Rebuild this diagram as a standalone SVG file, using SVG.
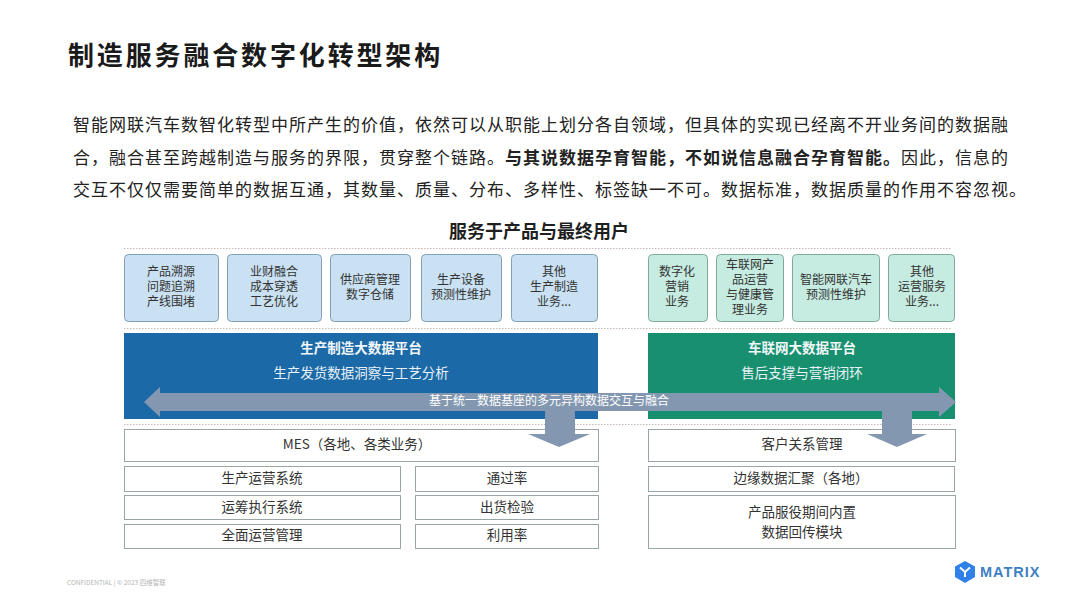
<svg xmlns="http://www.w3.org/2000/svg" width="1080" height="608" viewBox="0 0 1080 608">
<style>
text{font-family:"Noto Sans CJK SC","Liberation Sans",sans-serif;fill:#2a2a2a;text-anchor:middle}
.title{font-size:26px;font-weight:700;text-anchor:start;letter-spacing:2.85px;fill:#1a1a1a}
.para{font-size:17px;text-anchor:start;letter-spacing:1px;fill:#222}
.para tspan{font-weight:700}
.head{font-size:18px;font-weight:600;fill:#1f1f1f}
.small{font-size:12px;fill:#333}
.mid{font-size:13.500px;fill:#333}
.pt{font-size:13.500px;font-weight:700;fill:#f2f7fa}
.ps{font-size:13.500px;fill:#e8f1f5}
.blue{fill:#c9e1f2;stroke:#80a0b4;stroke-width:1}
.green{fill:#c6ece1;stroke:#7fa99c;stroke-width:1}
.plain{fill:#fff;stroke:#9aa5a8;stroke-width:1}
.dots{stroke:#c4b8b8;stroke-width:1;stroke-dasharray:1.5 1.5;fill:none}
.arrow{fill:#8398b0}
</style>
<rect width="1080" height="608" fill="#fff"/>
<text class="title" x="68" y="65">制造服务融合数字化转型架构</text>
<text class="para" x="73" y="131">智能网联汽车数智化转型中所产生的价值，依然可以从职能上划分各自领域，但具体的实现已经离不开业务间的数据融</text>
<text class="para" x="73" y="164">合，融合甚至跨越制造与服务的界限，贯穿整个链路。<tspan>与其说数据孕育智能，不如说信息融合孕育智能。</tspan>因此，信息的</text>
<text class="para" x="73" y="196">交互不仅仅需要简单的数据互通，其数量、质量、分布、多样性、标签缺一不可。数据标准，数据质量的作用不容忽视。</text>
<text class="head" x="539" y="238">服务于产品与最终用户</text>
<g id="separators">
<path class="dots" d="M124 248.500H952M124 328.500H952M124 424.500H952"/>
</g>
<g id="node-trace"><rect class="blue" x="124.500" y="254.500" width="94" height="67" rx="4"/><text class="small" x="171" y="276">产品溯源</text><text class="small" x="171" y="291">问题追溯</text><text class="small" x="171" y="306">产线围堵</text></g>
<g id="node-finance"><rect class="blue" x="227.500" y="254.500" width="94" height="67" rx="4"/><text class="small" x="274" y="276">业财融合</text><text class="small" x="274" y="291">成本穿透</text><text class="small" x="274" y="306">工艺优化</text></g>
<g id="node-supplier"><rect class="blue" x="330.500" y="254.500" width="80" height="67" rx="4"/><text class="small" x="370" y="284">供应商管理</text><text class="small" x="370" y="299">数字仓储</text></g>
<g id="node-equipment"><rect class="blue" x="421.500" y="254.500" width="80" height="67" rx="4"/><text class="small" x="461" y="284">生产设备</text><text class="small" x="461" y="299">预测性维护</text></g>
<g id="node-other-mfg"><rect class="blue" x="511.500" y="254.500" width="86" height="67" rx="4"/><text class="small" x="554" y="276">其他</text><text class="small" x="554" y="291">生产制造</text><text class="small" x="554" y="306">业务...</text></g>
<g id="node-marketing"><rect class="green" x="648.500" y="254.500" width="59" height="67" rx="4"/><text class="small" x="677" y="276">数字化</text><text class="small" x="677" y="291">营销</text><text class="small" x="677" y="306">业务</text></g>
<g id="node-iov-ops"><rect class="green" x="716.500" y="254.500" width="67" height="67" rx="4"/><text class="small" x="750" y="269">车联网产</text><text class="small" x="750" y="284">品运营</text><text class="small" x="750" y="299">与健康管</text><text class="small" x="750" y="314">理业务</text></g>
<g id="node-vehicle"><rect class="green" x="792.500" y="254.500" width="87" height="67" rx="4"/><text class="small" x="836" y="284">智能网联汽车</text><text class="small" x="836" y="299">预测性维护</text></g>
<g id="node-other-ops"><rect class="green" x="888.500" y="254.500" width="66" height="67" rx="4"/><text class="small" x="922" y="276">其他</text><text class="small" x="922" y="291">运营服务</text><text class="small" x="922" y="306">业务...</text></g>
<g id="node-mfg-platform"><rect x="124" y="333" width="474" height="86" fill="#1c69a8"/><text class="pt" x="361" y="353">生产制造大数据平台</text><text class="ps" x="361" y="378">生产发货数据洞察与工艺分析</text></g>
<g id="node-iov-platform"><rect x="648" y="333" width="307" height="86" fill="#189070"/><text class="pt" x="802" y="353">车联网大数据平台</text><text class="ps" x="802" y="378">售后支撑与营销闭环</text></g>
<g id="node-mes"><rect class="plain" x="124.500" y="429.500" width="474" height="32"/><text class="mid" x="357" y="449">MES（各地、各类业务）</text></g>
<g id="node-prod-ops"><rect class="plain" x="124.500" y="466.500" width="276" height="25"/><text class="mid" x="262" y="483">生产运营系统</text></g>
<g id="node-exec"><rect class="plain" x="124.500" y="495.500" width="276" height="24"/><text class="mid" x="262" y="512">运筹执行系统</text></g>
<g id="node-total"><rect class="plain" x="124.500" y="524.500" width="276" height="24"/><text class="mid" x="262" y="540">全面运营管理</text></g>
<g id="node-pass"><rect class="plain" x="415.500" y="466.500" width="183" height="25"/><text class="mid" x="507" y="483">通过率</text></g>
<g id="node-shipping"><rect class="plain" x="415.500" y="495.500" width="183" height="24"/><text class="mid" x="507" y="512">出货检验</text></g>
<g id="node-usage"><rect class="plain" x="415.500" y="524.500" width="183" height="24"/><text class="mid" x="507" y="540">利用率</text></g>
<g id="node-crm"><rect class="plain" x="648.500" y="429.500" width="307" height="32"/><text class="mid" x="802" y="449">客户关系管理</text></g>
<g id="node-edge"><rect class="plain" x="648.500" y="466.500" width="306" height="25"/><text class="mid" x="801" y="483">边缘数据汇聚（各地）</text></g>
<g id="node-module"><rect class="plain" x="648.500" y="495.500" width="307" height="53"/><text class="mid" x="802" y="517">产品服役期间内置</text><text class="mid" x="802" y="537">数据回传模块</text></g>
<g id="connectors">
<path class="arrow" d="M144 402L160 387V393H939V387L956 402L939 417V411H160V417Z"/>
<path class="arrow" d="M545 411H575V434H590L559 447L528 434H545Z"/>
<path class="arrow" d="M882 411H912V434H927L897 447L867 434H882Z"/>
<text x="549" y="405" font-size="12" style="fill:#fff">基于统一数据基座的多元异构数据交互与融合</text>
</g>
<g id="footer">
<text x="67" y="585" font-size="6.500" style="text-anchor:start;fill:#b4b4b4">CONFIDENTIAL  |  © 2023 四维智联</text>
</g>
<g id="logo">
<path d="M965 561L975 566.500V577L965 583L955 577V566.500Z" fill="#2f80e8"/>
<path d="M960 567.500L965 572L970 567.500M965 572V577" fill="none" stroke="#fff" stroke-width="2"/>
<text x="980" y="577" font-size="14.500" font-weight="700" style="text-anchor:start;fill:#3f7fc4;font-family:'Liberation Sans',sans-serif;letter-spacing:1px">MATRIX</text>
</g>
</svg>
